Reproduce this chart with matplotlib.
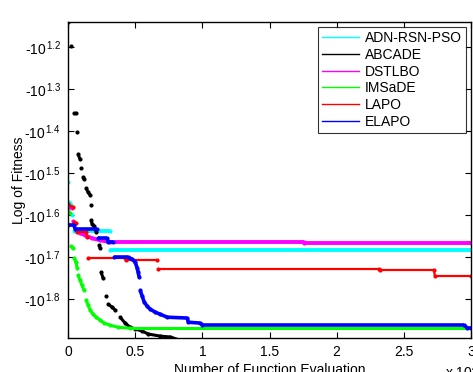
import matplotlib
matplotlib.use('Agg')
from matplotlib import pyplot as plt
from matplotlib.lines import Line2D

plt.rcParams['font.family'] = ['Liberation Sans', 'DejaVu Sans']
plt.rcParams['mathtext.fontset'] = 'custom'
plt.rcParams['mathtext.rm'] = 'Liberation Sans'
plt.rcParams['mathtext.it'] = 'Liberation Sans:italic'

# y values are the exponent e of the fitness -10^e
adn_x = [0, 75, 224, 298, 448, 3134, 3150, 30000]
adn_y = [1.521, 1.569, 1.576, 1.600, 1.638, 1.638, 1.683, 1.683]

abcade_x = [0, 224, 448, 597, 672, 746, 896, 970, 1119, 1194, 1343, 1493, 1642, 1680,
            1716, 1791, 1940, 2090, 2313, 2388, 2463, 2612, 2836, 2985, 3284, 3508, 3881,
            4254, 4627, 5000, 5522, 5970, 6866, 7612, 8358]
abcade_y = [1.141, 1.198, 1.357, 1.357, 1.402, 1.455, 1.467, 1.488, 1.510, 1.514, 1.536,
            1.545, 1.552, 1.576, 1.612, 1.621, 1.626, 1.640, 1.671, 1.679, 1.736, 1.750,
            1.793, 1.812, 1.819, 1.826, 1.843, 1.857, 1.867, 1.871, 1.876, 1.883, 1.888,
            1.890, 1.898]

dstlbo_x = [75, 298, 373, 597, 896, 1269, 1791, 2388, 3134, 17537, 17600, 30000]
dstlbo_y = [1.581, 1.583, 1.614, 1.636, 1.643, 1.648, 1.655, 1.660, 1.664, 1.664, 1.667, 1.667]

imsade_x = [0, 149, 224, 373, 448, 597, 672, 746, 896, 1045, 1194, 1343, 1493, 1642,
            1866, 2090, 2388, 2687, 3134, 3731, 4627, 30000]
imsade_y = [1.590, 1.595, 1.674, 1.679, 1.702, 1.712, 1.726, 1.743, 1.755, 1.767, 1.779,
            1.802, 1.814, 1.826, 1.836, 1.843, 1.850, 1.857, 1.862, 1.867, 1.869, 1.869]

lapo_x = [0, 373, 448, 597, 672, 1343, 1418, 1493, 4254, 4328, 6642, 6717, 23134, 23209,
          27239, 27313, 30000]
lapo_y = [1.574, 1.581, 1.617, 1.619, 1.640, 1.640, 1.652, 1.702, 1.702, 1.707, 1.707,
          1.729, 1.729, 1.731, 1.731, 1.745, 1.745]

elapo_x = [0, 448, 522, 2164, 2200, 2910, 2985, 3358, 3433, 4478, 4776, 5000, 5149, 5224,
           5299, 5373, 5522, 5672, 5896, 6119, 6493, 6866, 7388, 8881, 8955, 9851, 10000,
           29478, 29701, 30000]
elapo_y = [1.624, 1.624, 1.633, 1.633, 1.655, 1.655, 1.664, 1.664, 1.700, 1.700, 1.705,
           1.712, 1.726, 1.736, 1.748, 1.779, 1.793, 1.807, 1.817, 1.824, 1.831, 1.836,
           1.843, 1.845, 1.855, 1.857, 1.861, 1.861, 1.868, 1.868]

names = ['ADN-RSN-PSO', 'ABCADE', 'DSTLBO', 'IMSaDE', 'LAPO', 'ELAPO']
series = [(adn_x, adn_y), (abcade_x, abcade_y), (dstlbo_x, dstlbo_y),
          (imsade_x, imsade_y), (lapo_x, lapo_y), (elapo_x, elapo_y)]
colors = ['#00ffff', 'black', '#ff00ff', '#00ff00', '#ff0000', '#0000ff']
widths = [2.8, 2.2, 2.8, 2.2, 1.6, 2.6]

x_ticks = [0, 5000, 10000, 15000, 20000, 25000, 30000]
x_tick_labels = ['0', '0.5', '1', '1.5', '2', '2.5', '3']
y_ticks = [1.2, 1.3, 1.4, 1.5, 1.6, 1.7, 1.8]

fig = plt.figure(figsize=(4.73, 3.72), dpi=100)
ax = fig.add_axes([68 / 473, 34 / 372, 403 / 473, 316 / 372])

for (xs, ys), c, w in zip(series, colors, widths):
    ax.plot(xs, ys, 'o', color=c, ms=3.0, mew=0)
    # dense stretches in the original read as a continuous band
    for i in range(len(xs) - 1):
        if abs(ys[i + 1] - ys[i]) < 0.016:
            ax.plot(xs[i:i + 2], ys[i:i + 2], '-', color=c, lw=w,
                    solid_capstyle='butt')

ax.set_xlim(0, 30000)
ax.set_ylim(1.8925, 1.1405)
ax.set_xticks(x_ticks)
ax.set_xticklabels(x_tick_labels)
ax.set_yticks(y_ticks)
ax.set_yticklabels(['-10$^{\\,%.1f}$' % t for t in y_ticks])
ax.tick_params(direction='in', length=4, width=0.8, top=True, right=True,
               labelsize=10, pad=5)
for s in ax.spines.values():
    s.set_linewidth(1.0)

ax.set_ylabel('Log of Fitness', fontsize=10)
ax.yaxis.set_label_coords(-0.105, 0.5)
ax.set_xlabel('Number of Function Evaluation', fontsize=10, labelpad=3)
fig.text(445 / 473, -6 / 372, r'x 10$^{4}$', fontsize=10, va='baseline')

handles = [Line2D([], [], color=c, lw=1.0) for c in colors]
leg = ax.legend(handles, names, loc='upper right', fontsize=10, frameon=True,
                fancybox=False, edgecolor='black', borderpad=0.3, labelspacing=0.2,
                handlelength=2.7, handletextpad=0.4, borderaxespad=0.35)
leg.get_frame().set_linewidth(0.8)

fig.savefig('out.png', dpi=100)
